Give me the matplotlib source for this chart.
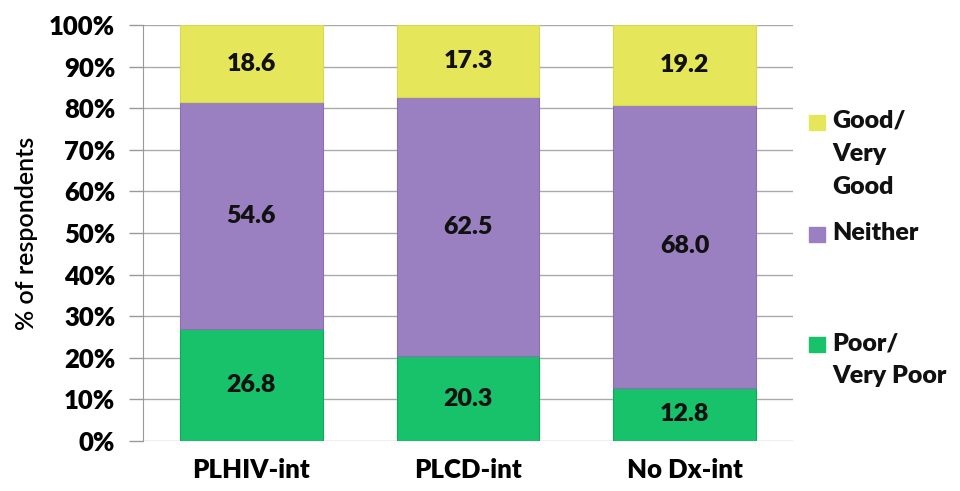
import matplotlib.pyplot as plt
from matplotlib.patches import Rectangle
from matplotlib.ticker import PercentFormatter

groups = ['PLHIV-int', 'PLCD-int', 'No Dx-int']
poor = [26.8, 20.3, 12.8]
neither = [54.6, 62.5, 68.0]
good = [18.6, 17.3, 19.2]

series_names = ['Poor/\nVery Poor', 'Neither', 'Good/\nVery\nGood']
colors = ['#17c26a', '#9a80c0', '#e6e65a']
edge_colors = ['#12a85a', '#8a70b2', '#d8d852']

plt.rcParams['font.family'] = ['Lato', 'DejaVu Sans']

fig = plt.figure(figsize=(9.6, 4.91), dpi=100)
ax = fig.add_axes([0.149, 0.102, 0.677, 0.847])

x = range(len(groups))
bottom = [0.0] * len(groups)
for vals, col, ec in zip([poor, neither, good], colors, edge_colors):
    bars = ax.bar(x, vals, width=0.66, bottom=bottom, color=col,
                  edgecolor=ec, linewidth=0.8, zorder=3)
    for b, v in zip(bars, vals):
        ax.text(b.get_x() + b.get_width() / 2, b.get_y() + b.get_height() / 2,
                f'{v:.1f}', ha='center', va='center', fontsize=18,
                fontweight='heavy', color='#111111', zorder=4)
    bottom = [b + v for b, v in zip(bottom, vals)]

ax.set_xlim(-0.5, 2.5)
ax.set_ylim(0, 100)
ax.set_yticks(range(0, 101, 10))
ax.yaxis.set_major_formatter(PercentFormatter(decimals=0))
ax.set_xticks(list(x))
ax.set_xticklabels(groups, fontsize=18.5, fontweight='heavy')
ax.tick_params(axis='y', labelsize=18.5, length=10, color='#999999', width=1,
               pad=10)
ax.tick_params(axis='x', length=0, pad=12)
for lbl in ax.get_yticklabels():
    lbl.set_fontweight('heavy')
ax.grid(axis='y', color='#aaaaaa', linewidth=1, zorder=0)
for s in ['top', 'right', 'bottom']:
    ax.spines[s].set_visible(False)
ax.spines['left'].set_color('#999999')
ax.set_ylabel('% of respondents', fontsize=18, fontweight='semibold', labelpad=8)

# legend drawn by hand, to keep the uneven spacing of the original
legend_pos = [(0.305, series_names[0], 0), (0.530, series_names[1], 1),
              (0.758, series_names[2], 2)]
for y_top, name, i in legend_pos:
    fig.add_artist(Rectangle((0.843, y_top - 0.022), 0.016, 0.030,
                             transform=fig.transFigure, color=colors[i]))
    fig.text(0.867, y_top + 0.018, name, fontsize=18, fontweight='heavy',
             va='top', ha='left', linespacing=1.6, color='#111111')

fig.savefig('out.png', dpi=100)
